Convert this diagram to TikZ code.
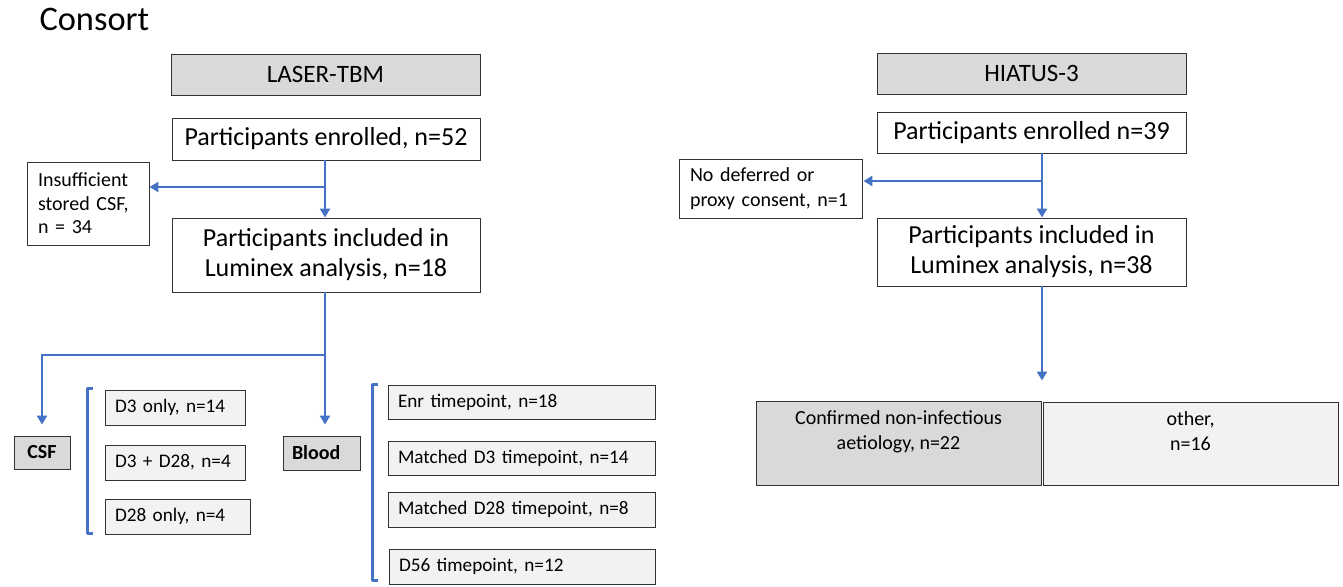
\documentclass[tikz,border=0pt]{standalone}
\usepackage{fontspec}
\setmainfont{Carlito}
\usetikzlibrary{arrows.meta}
\definecolor{flowblue}{HTML}{4472C4}
\definecolor{headgray}{HTML}{D9D9D9}
\definecolor{subgray}{HTML}{F2F2F2}
\begin{document}
\begin{tikzpicture}[x=1pt,y=-1pt,
  sz/.style n args={2}{minimum width=#1pt, minimum height=#2pt},
  box/.style={draw=black!80, line width=0.9pt, fill=white, inner sep=0pt, align=center},
  mainbox/.style={box, font=\fontsize{26}{30}\selectfont},
  headbox/.style={box, fill=headgray, font=\fontsize{25}{28}\selectfont},
  notebox/.style={box, font=\fontsize{20}{23.5}\selectfont, align=left, inner xsep=11pt},
  subbox/.style={box, fill=subgray, font=\fontsize{19.2}{23}\selectfont, align=left, inner xsep=10pt},
  tagbox/.style={box, fill=headgray, font=\fontsize{20}{24}\selectfont\bfseries},
  catbox/.style={box, font=\fontsize{20}{25}\selectfont},
  flowline/.style={draw=flowblue, line width=2.8pt},
  flow/.style={flowline, -{Triangle[length=9pt,width=10pt]}},
  brk/.style={draw=flowblue, line width=2.5pt, line join=round}]
\useasboundingbox (0,0) rectangle (1343,586);

\node[anchor=base west, font=\fontsize{34.4}{40}\selectfont] (title) at (36,31) {Consort};

% LASER-TBM arm
\node[headbox, sz={309}{41}] (laser) at (325.5,74.5) {LASER-TBM};
\node[mainbox, sz={308}{42}] (enrA) at (326,139) {Participants enrolled, n=52};
\node[notebox, sz={122}{83}, text width=100pt] (insuf) at (88,203.5) {Insufficient\\stored CSF,\\n = 34};
\node[mainbox, sz={308}{74}] (inclA) at (326,255) {Participants included in\\Luminex analysis, n=18};

\node[tagbox, sz={56}{33}] (csf) at (42,452.5) {CSF};
\node[tagbox, sz={77}{34}, align=left, text width=59pt, inner xsep=9pt] (blood) at (321.5,453) {Blood};

\node[subbox, sz={140}{35}, text width=120pt] (dthree) at (175,407.5) {D3 only, n=14};
\node[subbox, sz={140}{35}, text width=120pt] (dboth) at (175,462.5) {D3 + D28, n=4};
\node[subbox, sz={145}{35}, text width=125pt] (dtwe) at (177.5,516.5) {D28 only, n=4};

\node[subbox, sz={267}{34}, text width=247pt] (tenr) at (521.5,402) {Enr timepoint, n=18};
\node[subbox, sz={267}{34}, text width=247pt] (tthree) at (521.5,458) {Matched D3 timepoint, n=14};
\node[subbox, sz={267}{35}, text width=247pt] (ttwe) at (521.5,509.5) {Matched D28 timepoint, n=8};
\node[subbox, sz={266}{35}, text width=246pt] (tfif) at (522,566.5) {D56 timepoint, n=12};

\coordinate (jA) at (325,187);
\coordinate (jB) at (325,355);
\draw[flow] (jA |- enrA.south) -- (jA |- inclA.north);
\draw[flow] (jA) -- (insuf.east |- jA);
\draw[flowline] (jB |- inclA.south) -- (jB);
\draw[flow, shorten >=11pt] (jB) -| (csf.north);
\draw[flow, shorten >=11pt] (jB) -- (jB |- blood.north);

\draw[brk] ([xshift=-12pt,yshift=1pt]dthree.north west) -- ([xshift=-17pt,yshift=1pt]dthree.north west)
  -- ([xshift=-17pt,yshift=1pt]dtwe.south west) -- ([xshift=-12pt,yshift=1pt]dtwe.south west);
\draw[brk] ([xshift=-10pt]tenr.north west) -- ([xshift=-15pt]tenr.north west)
  -- ([xshift=-16pt,yshift=4pt]tfif.south west) -- ([xshift=-11pt,yshift=4pt]tfif.south west);

% HIATUS-3 arm
\node[headbox, sz={309}{41}] (hiatus) at (1031.5,73.5) {HIATUS-3};
\node[mainbox, sz={309}{41}] (enrB) at (1031.5,132.5) {Participants enrolled n=39};
\node[notebox, sz={183}{59}, text width=161pt, font=\fontsize{20}{25}\selectfont] (nocons) at (770.5,188.5) {No deferred or\\proxy consent, n=1};
\node[mainbox, sz={309}{68}] (inclB) at (1031.5,252) {Participants included in\\Luminex analysis, n=38};

\node[catbox, sz={285}{84}, fill=headgray] (conf) at (898.5,443) {Confirmed non-infectious\\aetiology, n=22\\~};
\node[catbox, sz={295}{83}, fill=subgray] (other) at (1190.5,443.5) {other,\\n=16\\~};

\coordinate (jC) at (1042,181);
\draw[flow] (jC |- enrB.south) -- (jC |- inclB.north);
\draw[flow] (jC) -- ([xshift=1pt]nocons.east |- jC);
\draw[flow, shorten >=20pt] (jC |- inclB.south) -- (jC |- conf.north);

\end{tikzpicture}
\end{document}
